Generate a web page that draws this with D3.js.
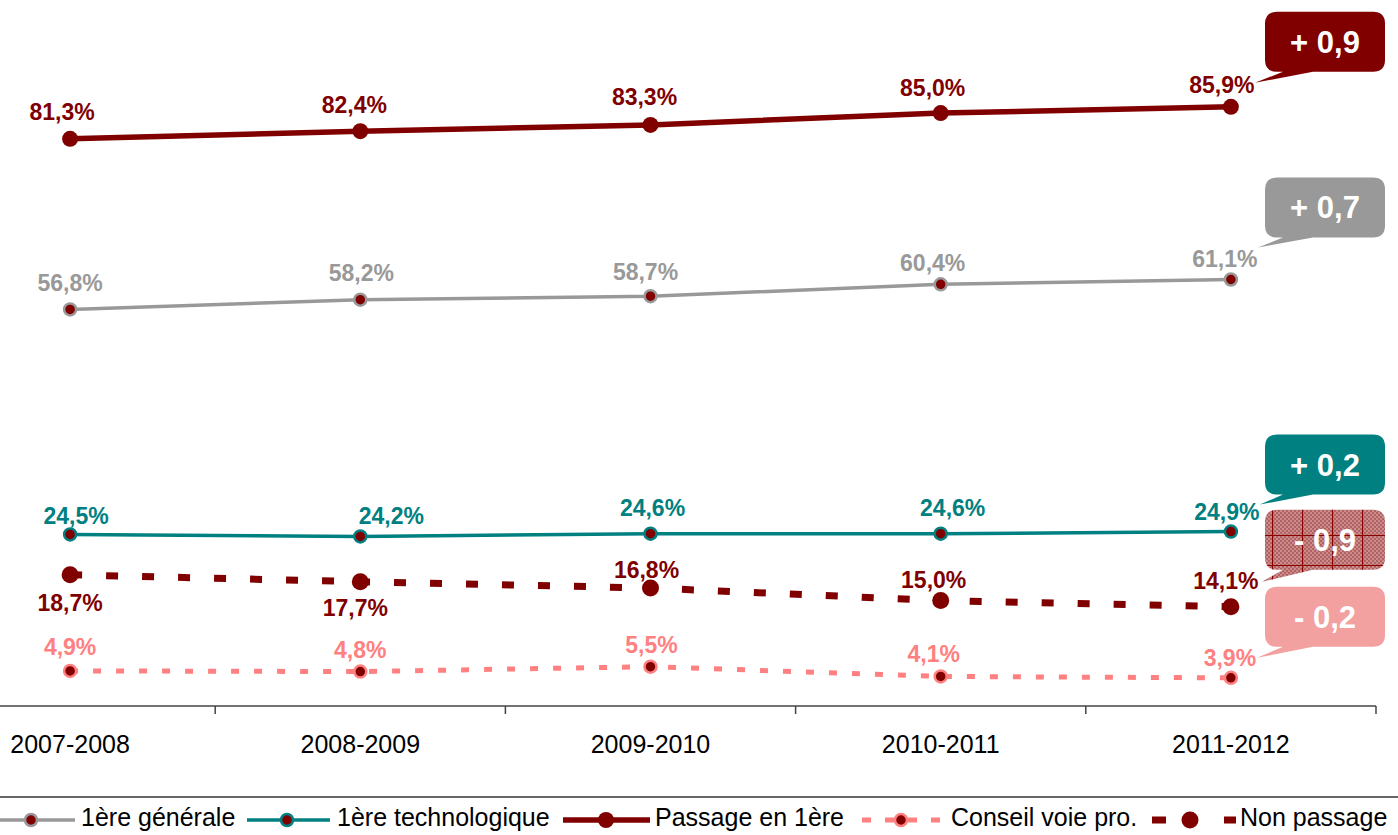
<!DOCTYPE html>
<html>
<head>
<meta charset="utf-8">
<script src="https://cdn.jsdelivr.net/npm/d3@7"></script>
<style>
  body { margin: 0; background: #fff; }
  svg { display: block; font-family: "Liberation Sans", Arial, sans-serif; }
</style>
</head>
<body>
<div id="chart"></div>
<script>
// data
var years = ["2007-2008", "2008-2009", "2009-2010", "2010-2011", "2011-2012"];
var generale = [56.8, 58.2, 58.7, 60.4, 61.1];
var techno = [24.5, 24.2, 24.6, 24.6, 24.9];
var passage = [81.3, 82.4, 83.3, 85.0, 85.9];
var conseil = [4.9, 4.8, 5.5, 4.1, 3.9];
var nonPassage = [18.7, 17.7, 16.8, 15.0, 14.1];
var seriesNames = ["1ère générale", "1ère technologique", "Passage en 1ère", "Conseil voie pro.", "Non passage"];
// change over the last year, as printed in the callouts (passage, générale, techno, non passage, conseil)
var evolution = [0.9, 0.7, 0.2, -0.9, -0.2];

var W = 1398, H = 835;
var dark = "#800000";

var svg = d3.select("#chart").append("svg").attr("width", W).attr("height", H);
var defs = svg.append("defs");

// checker + grid used by the "Non passage" callout
var chk = defs.append("pattern").attr("id", "chk").attr("patternUnits", "userSpaceOnUse")
  .attr("width", 4).attr("height", 4);
chk.append("rect").attr("width", 4).attr("height", 4).attr("fill", "#cc8c8c");
chk.append("rect").attr("width", 2).attr("height", 2).attr("fill", "#b06262");
chk.append("rect").attr("x", 2).attr("y", 2).attr("width", 2).attr("height", 2).attr("fill", "#b06262");
var grid = defs.append("pattern").attr("id", "grid").attr("patternUnits", "userSpaceOnUse")
  .attr("width", 30).attr("height", 30).attr("x", 1272).attr("y", 505);
grid.append("path").attr("d", "M0.5,0V30M0,0.5H30").attr("stroke", "#8a0000").attr("stroke-width", 1.2).attr("fill", "none");

var x = d3.scaleBand().domain(years).range([-75, 1376]);
var cx = function(d) { return x(d) + x.bandwidth() / 2; };
var y = d3.scaleLinear().domain([0, 100]).range([705, 8.6]);

// draw order & styles
var series = [
  { name: seriesNames[3], values: conseil, color: "#ff8080", width: 5, dash: "8,15", r: 6, ring: "#ff8080",
    lab: "#ff8080", dx: [0, 0, 1, -7, -1], dy: [-16, -14, -14, -14, -12] },
  { name: seriesNames[4], values: nonPassage, color: dark, width: 7, dash: "12,24", r: 8.5, ring: null,
    lab: dark, dx: [0, -5, -4, -7, -5], dy: [36, 34, -10, -13, -18] },
  { name: seriesNames[1], values: techno, color: "#008080", width: 3.5, dash: null, r: 6, ring: "#008080",
    lab: "#008080", dx: [6, 31, 2, 12, -4], dy: [-10, -12, -18, -18, -12] },
  { name: seriesNames[0], values: generale, color: "#999999", width: 3.5, dash: null, r: 6, ring: "#999999",
    lab: "#999999", dx: [0, 1, -5, -8, -6], dy: [-18, -19, -16, -13, -12] },
  { name: seriesNames[2], values: passage, color: dark, width: 5.5, dash: null, r: 8, ring: null,
    lab: dark, dx: [-8, -6, -6, -8, -9], dy: [-19, -18, -20, -17, -14] }
];

// x axis
var axis = svg.append("g").attr("stroke", "#444").attr("stroke-width", 1.5);
axis.append("line").attr("x1", 0).attr("x2", 1376).attr("y1", 706).attr("y2", 706);
axis.selectAll(".tk").data(years.slice(1).concat(["end"])).enter().append("line")
  .attr("x1", function(d) { return d === "end" ? 1376 : x(d); })
  .attr("x2", function(d) { return d === "end" ? 1376 : x(d); })
  .attr("y1", 706).attr("y2", 714);
svg.selectAll(".cat").data(years).enter().append("text")
  .attr("x", cx).attr("y", 753).attr("text-anchor", "middle")
  .attr("font-size", 25).attr("fill", "#000").text(function(d) { return d; });

var line = d3.line().x(function(d, i) { return cx(years[i]); }).y(function(d) { return y(d); });

series.forEach(function(s) {
  svg.append("path").datum(s.values).attr("d", line)
    .attr("fill", "none").attr("stroke", s.color).attr("stroke-width", s.width)
    .attr("stroke-dasharray", s.dash);
  svg.selectAll(null).data(s.values).enter().append("circle")
    .attr("cx", function(d, i) { return cx(years[i]); }).attr("cy", y)
    .attr("r", s.r).attr("fill", dark)
    .attr("stroke", s.ring).attr("stroke-width", s.ring ? 2.5 : 0);
});

// value labels on top
series.forEach(function(s) {
  svg.selectAll(null).data(s.values).enter().append("text")
    .attr("x", function(d, i) { return cx(years[i]) + s.dx[i]; })
    .attr("y", function(d, i) { return y(d) + s.dy[i]; })
    .attr("text-anchor", "middle").attr("font-size", 23).attr("font-weight", "bold")
    .attr("fill", s.lab)
    .text(function(d) { return d3.format(".1f")(d).replace(".", ",") + "%"; });
});

// change callouts
var callouts = [
  { s: passage, fill: dark, top: -95, lx: 24, ly: -24 },
  { s: generale, fill: "#999999", top: -102, lx: 27, ly: -32 },
  { s: techno, fill: "#008080", top: -97, lx: 29, ly: -27 },
  { s: nonPassage, fill: "url(#chk)", over: "url(#grid)", top: -97, lx: 31, ly: -25 },
  { s: conseil, fill: "#f2a0a0", top: -91, lx: 26, ly: -20 }
];
var bx = 1265, bw = 120, bh = 60, rr = 12;
callouts.forEach(function(c, k) {
  var last = c.s[c.s.length - 1];
  var py = y(last), px = cx(years[years.length - 1]);
  var t = py + c.top, b = t + bh;
  var tipX = px + c.lx, tipY = py + c.ly;
  var p = "M" + (bx + rr) + "," + t + "H" + (bx + bw - rr) + "Q" + (bx + bw) + "," + t + " " + (bx + bw) + "," + (t + rr) +
    "V" + (b - rr) + "Q" + (bx + bw) + "," + b + " " + (bx + bw - rr) + "," + b +
    "H" + 1313 + "L" + tipX + "," + tipY + "L" + 1283 + "," + b +
    "H" + (bx + rr) + "Q" + bx + "," + b + " " + bx + "," + (b - rr) +
    "V" + (t + rr) + "Q" + bx + "," + t + " " + (bx + rr) + "," + t + "Z";
  svg.append("path").attr("d", p).attr("fill", c.fill);
  if (c.over) svg.append("path").attr("d", p).attr("fill", c.over);
  var diff = evolution[k];
  var txt = (diff >= 0 ? "+ " : "- ") + d3.format(".1f")(Math.abs(diff)).replace(".", ",");
  svg.append("text").attr("x", 1325).attr("y", t + bh / 2 + 11).attr("text-anchor", "middle")
    .attr("font-size", 31).attr("font-weight", "bold").attr("fill", "#fff").text(txt);
});

// legend
svg.append("line").attr("x1", 0).attr("x2", W).attr("y1", 797).attr("y2", 797)
  .attr("stroke", "#333").attr("stroke-width", 1.5);
var legendItems = [
  { s: series[3], x0: 0, x1: 75, m: 31, tx: 81 },
  { s: series[2], x0: 247, x1: 330, m: 287, tx: 337 },
  { s: series[4], x0: 563, x1: 650, m: 606, tx: 655 },
  { s: series[0], x0: 862, x1: 945, m: 901, tx: 951 },
  { s: series[1], x0: 1150, x1: 1236, m: 1190, tx: 1240 }
];
var lg = svg.append("g");
legendItems.forEach(function(it) {
  var s = it.s;
  var ln = lg.append("line").attr("x1", it.x0).attr("x2", it.x1).attr("y1", 820).attr("y2", 820)
    .attr("stroke", s.color).attr("stroke-width", s.width);
  if (s.dash === "8,15") ln.attr("stroke-dasharray", "9,14");
  if (s.dash === "12,24") ln.attr("stroke-dasharray", "14,58").attr("stroke-dashoffset", -2);
  lg.append("circle").attr("cx", it.m).attr("cy", 820).attr("r", s.r)
    .attr("fill", dark).attr("stroke", s.ring).attr("stroke-width", s.ring ? 2.5 : 0);
  lg.append("text").attr("x", it.tx).attr("y", 826).attr("font-size", 25).attr("fill", "#000").text(s.name);
});
</script>
</body>
</html>
